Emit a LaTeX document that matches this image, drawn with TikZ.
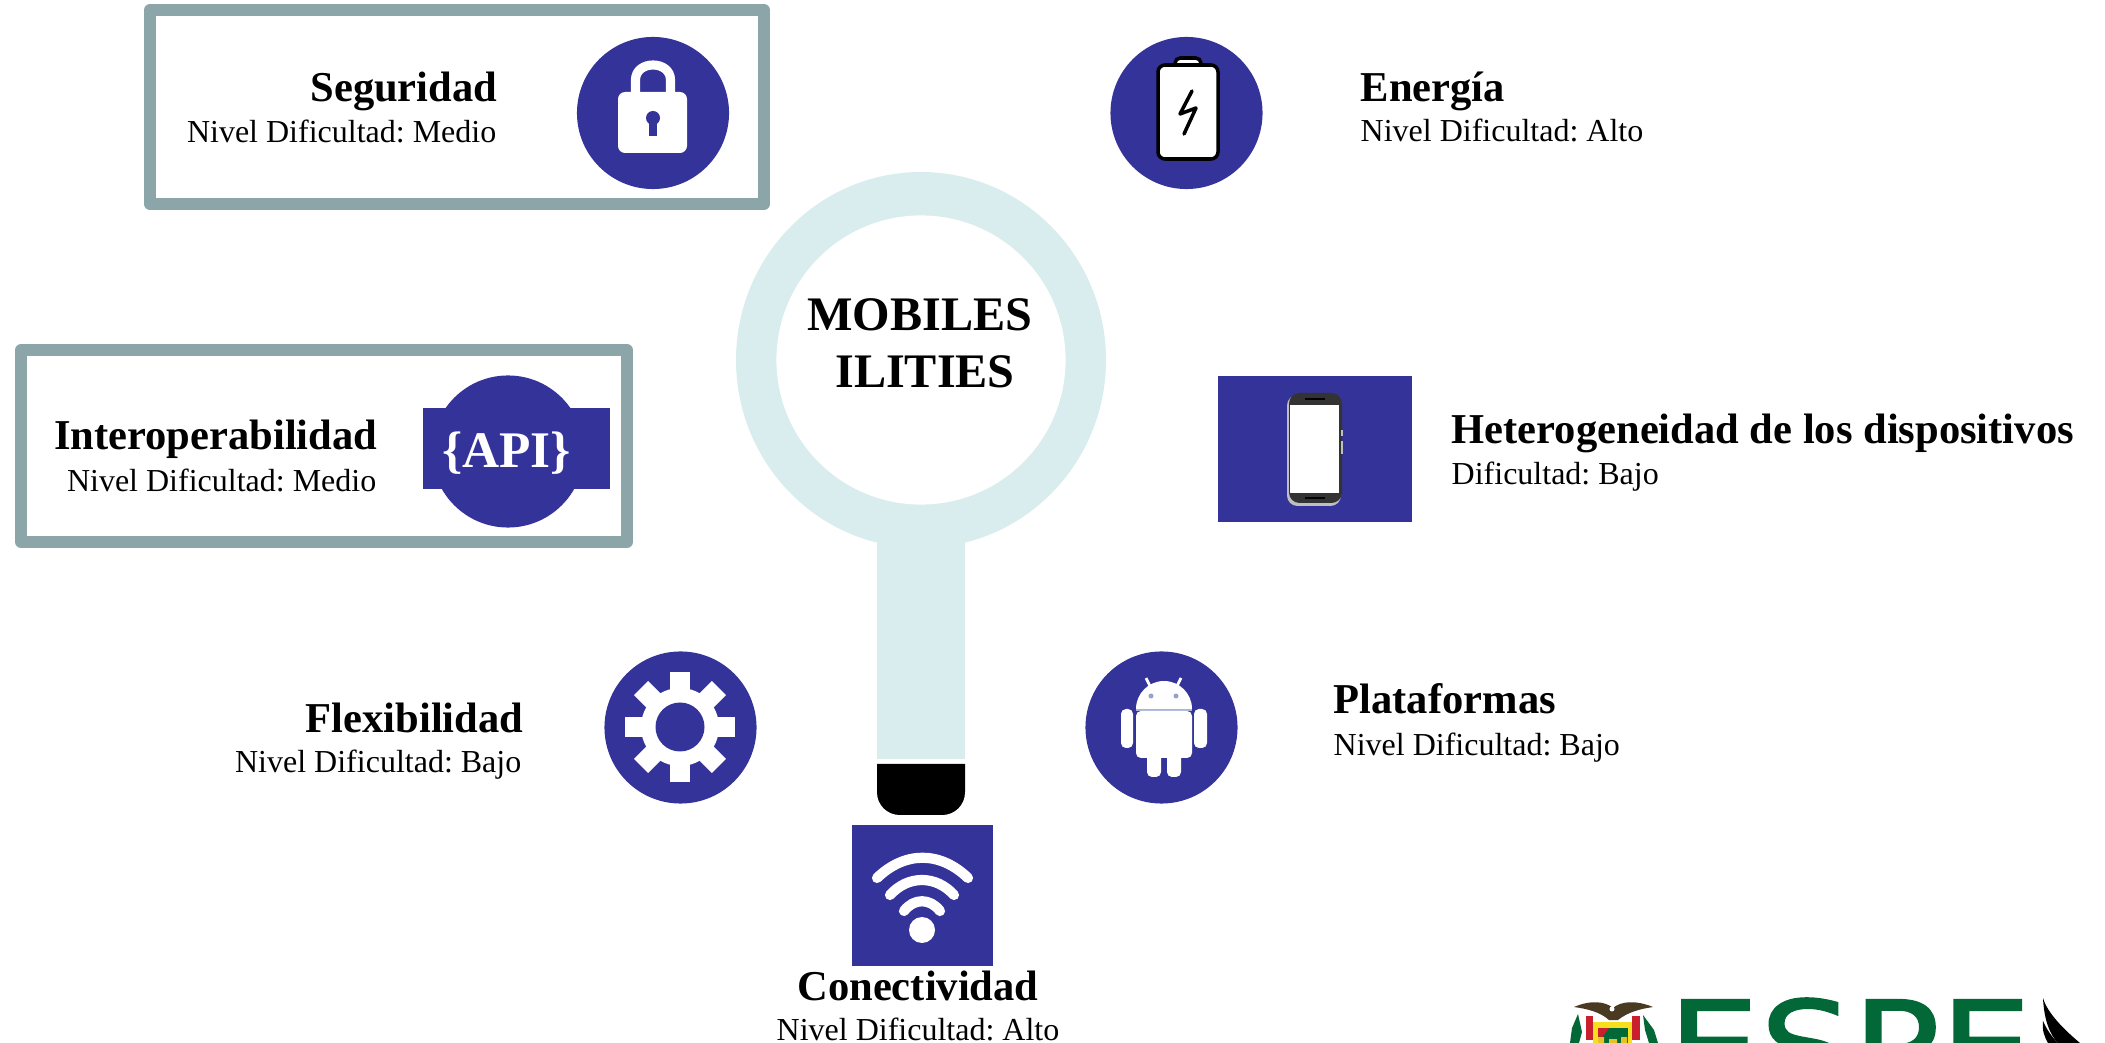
\documentclass[tikz,border=0pt]{standalone}
\usepackage{fontspec}
\setmainfont{Liberation Serif}
\newfontfamily\logofont[FakeBold=1.3,FakeStretch=1.15]{DejaVu Sans}
\definecolor{navy}{HTML}{343399}
\definecolor{framegrey}{HTML}{8CA5A8}
\definecolor{lenscolor}{HTML}{D9ECEE}
\definecolor{logogreen}{HTML}{036837}
\definecolor{condorbrown}{HTML}{4A3A22}
\definecolor{crestred}{HTML}{C8202C}
\definecolor{crestyellow}{HTML}{F5DF1E}
\tikzset{
  icondisc/.style={circle,fill=navy,inner sep=0pt,minimum size=1.52cm},
  iconsquare/.style={rectangle,fill=navy,inner sep=0pt},
  framebox/.style={draw=framegrey,line width=3.4pt,line join=round},
  titletext/.style={inner sep=0pt,font=\bfseries\fontsize{12.1}{14}\selectfont},
  subtext/.style={inner sep=0pt,font=\frenchspacing\fontsize{9.1}{11}\selectfont},
}
\begin{document}
\begin{tikzpicture}[x=0.01cm,y=-0.01cm]
\useasboundingbox (0,0) rectangle (2105,1043);
\clip (0,0) rectangle (2105,1043);

% frames
\draw[framebox] (150,10) rectangle (764,204);
\draw[framebox] (21,350) rectangle (627,542);

% magnifier
\fill[lenscolor] (921,360) ellipse (185 and 188);
\fill[lenscolor] (877,500) rectangle (965,759);
\path (921,360) node[circle,fill=white,inner sep=0pt,minimum size=2.89cm](lens) {};
\path (925,343) node[inner sep=0pt,align=center,font=\bfseries\fontsize{13.7}{16.2}\selectfont](mobiles) {MOBILES\hspace*{3pt}\\ILITIES};
\fill[black] (877,764) [rounded corners=6.5pt] -- (877,815) -- (965,815) [sharp corners] -- (965,764) -- cycle;

% icon backgrounds
\path
(653,113) node[icondisc](seguridadicon) {}
(1186.5,113) node[icondisc](energiaicon) {}
(508,451.5) node[icondisc](interopicon) {}
(516.5,448.5) node[iconsquare,minimum width=1.87cm,minimum height=0.81cm](apibar) {}
(506.5,453.5) node[inner sep=0pt,font=\bfseries\fontsize{14.6}{18}\selectfont,text=white](apitext) {\{API\}}
(1315,449) node[iconsquare,minimum width=1.94cm,minimum height=1.46cm](phoneicon) {}
(680.5,727.5) node[icondisc](flexicon) {}
(1161.5,727.5) node[icondisc](platicon) {}
(922.5,895.5) node[iconsquare,minimum size=1.41cm](wifiicon) {};

% lock
\draw[white,line width=2.6pt] (635.5,95) -- (635.5,80) .. controls (635.5,60) and (670.5,60) .. (670.5,80) -- (670.5,95);
\fill[white,rounded corners=2pt] (618,92) rectangle (687,153);
\fill[navy] (653,118) circle (7);
\fill[navy] (649,118) rectangle (657,136);

% battery
\draw[black,fill=white,line width=1pt,rounded corners=1.5pt] (1175,66) -- (1175,58) -- (1201,58) -- (1201,66);
\draw[black,fill=white,line width=1pt,rounded corners=2pt] (1158,65) rectangle (1218,159);
\draw[black,line width=1pt,line cap=round,line join=round] (1192,91) -- (1180,114) -- (1196,108) -- (1184,134);

% phone
\fill[lightgray,rounded corners=3pt] (1287,395) rectangle (1341,506);
\fill[black!80,rounded corners=3pt] (1289,393) rectangle (1342,503);
\fill[white] (1290,405) rectangle (1339,493);
\draw[black,line width=0.3pt] (1305,399) -- (1325,399) (1305,498) -- (1325,498);
\draw[lightgray,line width=0.4pt] (1342,430) -- (1342,436) (1342,441) -- (1342,454);

% gear
\fill[white] (680,727) circle (39);
\foreach \a in {0,45,...,315}
  \fill[white,rotate around={\a:(680,727)}] (670,672) rectangle (690,701);
\fill[navy] (680,727) circle (24.5);

% android
\fill[white] (1136,709) arc[start angle=180,end angle=360,radius=28] -- cycle;
\fill[lenscolor!70!navy] (1136,709) rectangle (1192,711);
\fill[white,rounded corners=1.4pt] (1136,711) rectangle (1192,758);
\fill[white,rounded corners=1.4pt] (1121,709) rectangle (1133,748);
\fill[white,rounded corners=1.4pt] (1194,709) rectangle (1207,748);
\fill[white,rounded corners=1.4pt] (1147,745) rectangle (1161,777);
\fill[white,rounded corners=1.4pt] (1167,745) rectangle (1181,777);
\draw[white,line width=0.8pt] (1150,686) -- (1146,678) (1177,686) -- (1181,678);
\fill[lenscolor!60!navy] (1151,696) circle (2.5) (1176,696) circle (2.5);

% wifi
\draw[white,line width=2.9pt,line cap=round] (877,878) .. controls (905,851) and (940,851) .. (968,878);
\draw[white,line width=2.9pt,line cap=round] (890,895) .. controls (908,875) and (936,875) .. (954,895);
\draw[white,line width=2.9pt,line cap=round] (904,911) .. controls (914,898) and (930,898) .. (940,911);
\fill[white] (922,930) circle (13);

% labels
\path
(498,102) node[titletext,anchor=base east](seguridad) {Seguridad}
(497,143) node[subtext,anchor=base east](seguridadsub) {Nivel Dificultad: Medio}
(1360,102) node[titletext,anchor=base west](energia) {Energía}
(1360,142) node[subtext,anchor=base west](energiasub) {Nivel Dificultad: Alto}
(378,450) node[titletext,anchor=base east](interop) {Interoperabilidad}
(377,492) node[subtext,anchor=base east](interopsub) {Nivel Dificultad: Medio}
(1451,444) node[titletext,anchor=base west](hetero) {Heterogeneidad de los dispositivos}
(1451,485) node[subtext,anchor=base west](heterosub) {Dificultad: Bajo}
(524,732) node[titletext,anchor=base east](flex) {Flexibilidad}
(522,772) node[subtext,anchor=base east](flexsub) {Nivel Dificultad: Bajo}
(1333,714) node[titletext,anchor=base west](plat) {Plataformas}
(1333,755) node[subtext,anchor=base west](platsub) {Nivel Dificultad: Bajo}
(918,1000) node[titletext,anchor=base](conect) {Conectividad}
(918,1040) node[subtext,anchor=base](conectsub) {Nivel Dificultad: Alto};

% logo
\path (1667,1092) node[anchor=base west,inner sep=0pt,text=logogreen,font=\logofont\fontsize{36}{40}\selectfont](espe) {ESPE};

% crest
\fill[condorbrown] (1574,1007) .. controls (1590,1000) and (1605,1001) .. (1613,1008) .. controls (1621,1001) and (1636,1000) .. (1653,1007) .. controls (1640,1009) and (1628,1012) .. (1618,1020) -- (1609,1020) .. controls (1600,1012) and (1588,1009) .. (1574,1007) -- cycle;
\fill[white] (1612,1009) circle (2.5);
\fill[logogreen] (1578,1014) -- (1582,1032) -- (1579,1043) -- (1570,1043) -- (1572,1028) -- cycle;
\fill[logogreen] (1643,1015) -- (1654,1030) -- (1658,1043) -- (1649,1043) -- (1645,1030) -- cycle;
\fill[crestred] (1586,1016) rectangle (1593,1040);
\fill[crestred] (1632,1016) rectangle (1640,1040);
\fill[crestyellow] (1593,1022) rectangle (1632,1043);
\fill[logogreen] (1598,1028) rectangle (1628,1043);
\fill[crestred] (1598,1028) -- (1609,1028) -- (1598,1043) -- cycle;
\fill[crestyellow!70!brown] (1598,1037) rectangle (1604,1043) (1609,1039) rectangle (1617,1043) (1621,1037) rectangle (1627,1043);

% bird
\fill[black] (2043,998) .. controls (2047,1012) and (2062,1028) .. (2080,1043) -- (2058,1043) .. controls (2050,1035) and (2044,1020) .. (2043,998) -- cycle;
\fill[black] (2043,1021) .. controls (2047,1030) and (2052,1037) .. (2058,1043) -- (2048,1043) .. controls (2044,1036) and (2042,1030) .. (2043,1021) -- cycle;
\end{tikzpicture}
\end{document}
